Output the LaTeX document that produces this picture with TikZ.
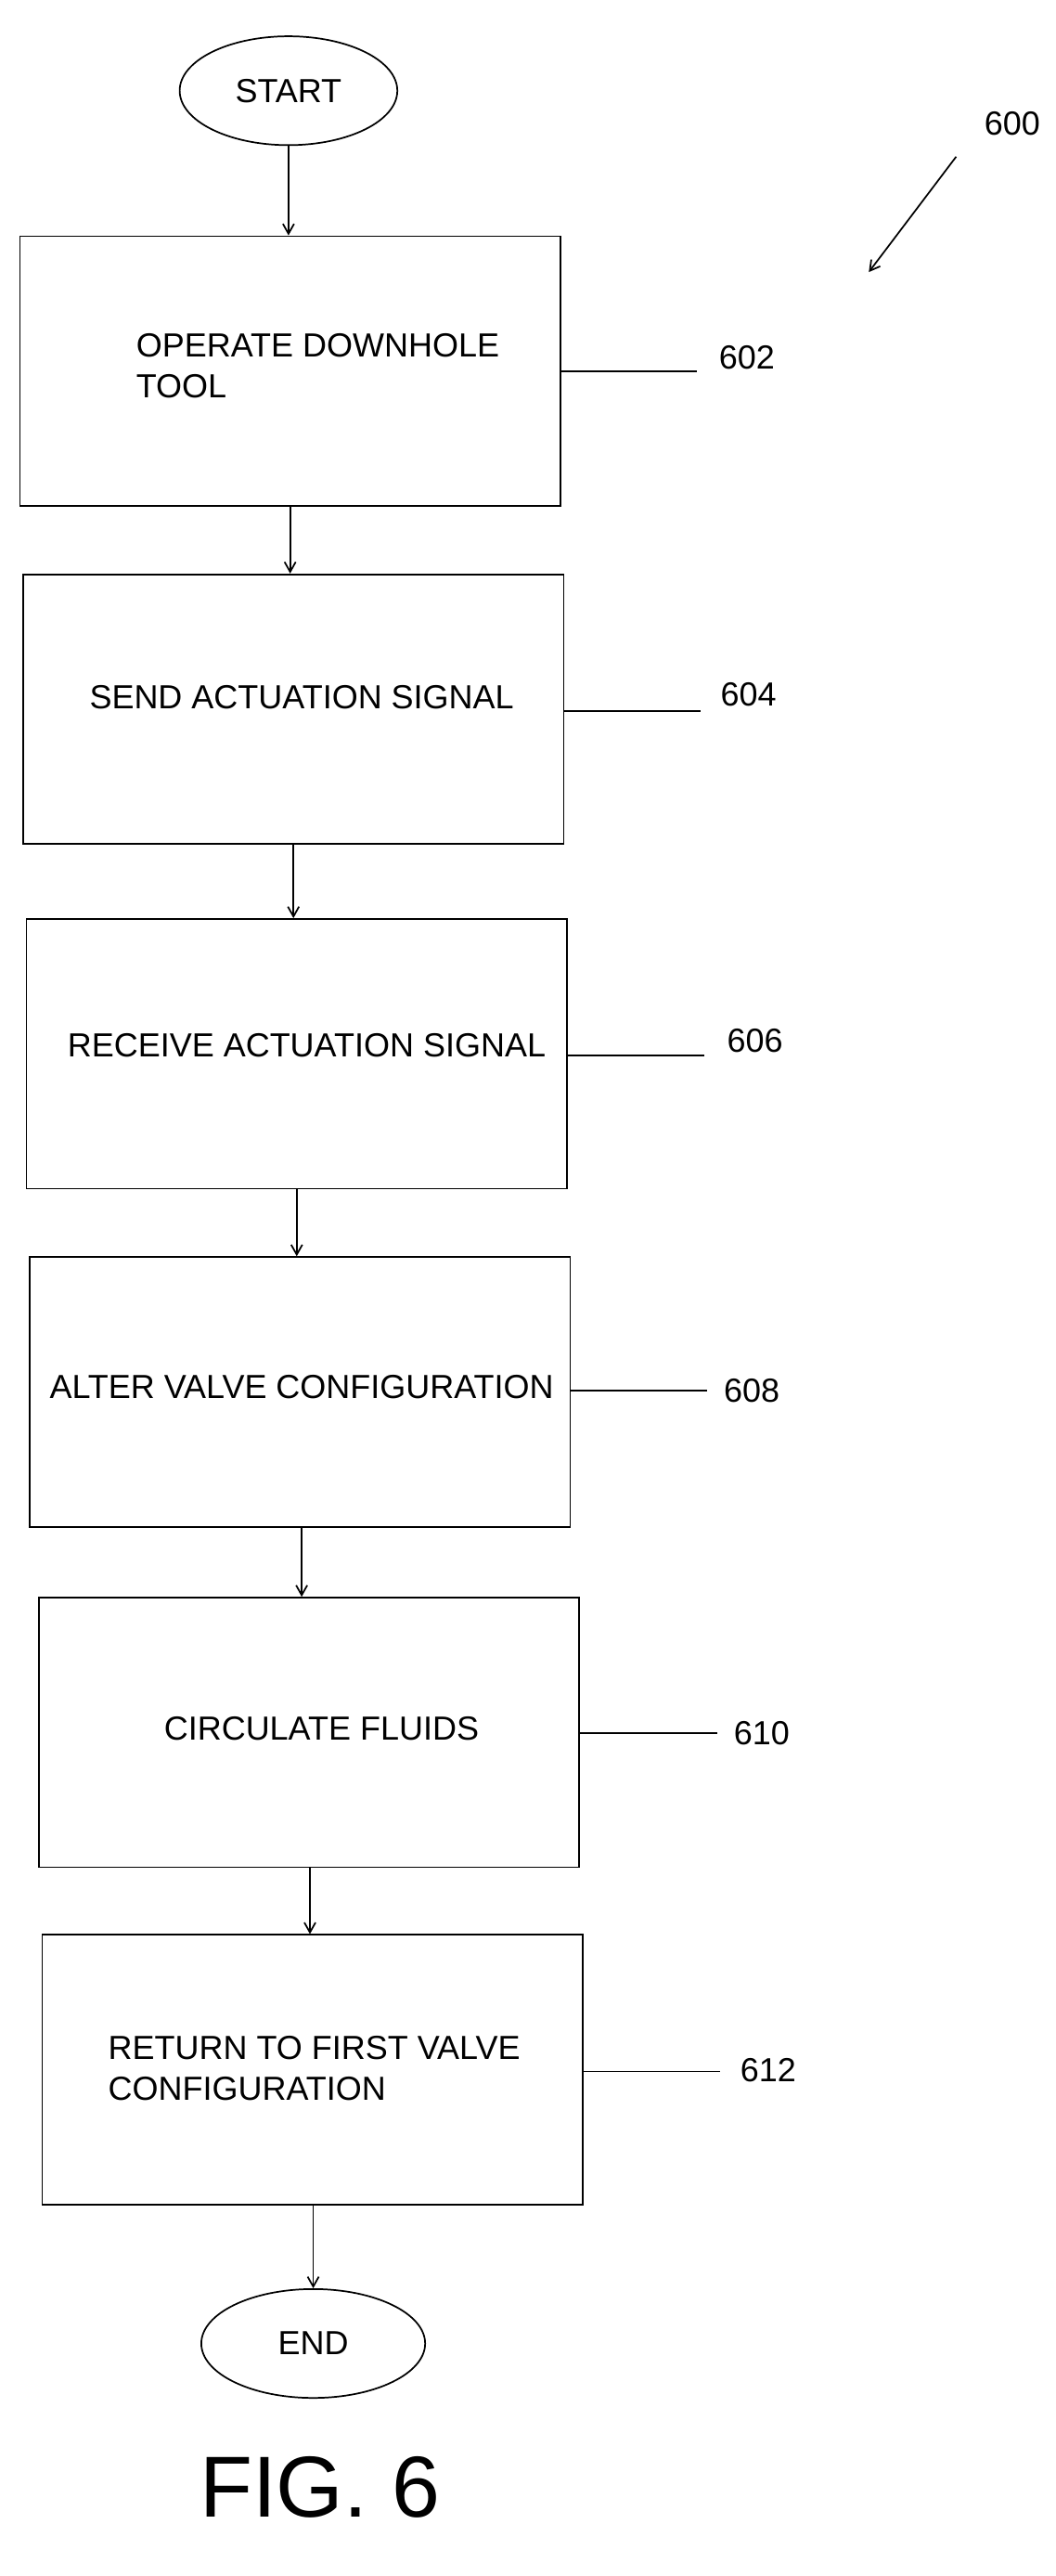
\documentclass[tikz,border=0pt]{standalone}
\usepackage{fontspec}
\setmainfont{Liberation Sans}
\usetikzlibrary{arrows.meta,shapes.geometric}
\begin{document}
\begin{tikzpicture}[x=1.333pt,y=-1.333pt,
  box/.style={draw,line width=1.3pt,minimum width=437pt,minimum height=218pt,inner sep=0pt},
  oval/.style={draw,ellipse,line width=1.3pt,minimum width=176pt,minimum height=88pt,inner sep=0pt},
  txt/.style={font=\fontsize{27}{33}\selectfont},
  lead/.style={line width=1.3pt},
  arr/.style={line width=1.3pt,-{Straight Barb[length=8pt,width=9pt]}}]
\useasboundingbox (0,0) rectangle (640,1562);
\node[oval,txt] (start) at (175,55) {START};
\node[box] (b602) at (176,225) {};
\node[box] (b604) at (178,430) {};
\node[box] (b606) at (180,639) {};
\node[box] (b608) at (182,844) {};
\node[box] (b610) at (187.5,1050.5) {};
\node[box] (b612) at (189.5,1255) {};
\node[oval,txt,minimum width=181pt] (end) at (190,1421) {END};
\node[txt,align=left,anchor=west] (t602) at (80,222) {OPERATE DOWNHOLE\\TOOL};
\node[txt] (t604) at (183,423) {SEND ACTUATION SIGNAL};
\node[txt] (t606) at (186,634) {RECEIVE ACTUATION SIGNAL};
\node[txt] (t608) at (183,841) {ALTER VALVE CONFIGURATION};
\node[txt] (t610) at (195,1048) {CIRCULATE FLUIDS};
\node[txt,align=left,anchor=west] (t612) at (63,1254) {RETURN TO FIRST VALVE\\CONFIGURATION};
\node[txt] (n602) at (453,217) {602};
\node[txt] (n604) at (454,421) {604};
\node[txt] (n606) at (458,631) {606};
\node[txt] (n608) at (456,843) {608};
\node[txt] (n610) at (462,1051) {610};
\node[txt] (n612) at (466,1255) {612};
\node[txt] (n600) at (614,75) {600};
\node[font=\fontsize{70}{80}\selectfont] (fig) at (194,1508) {FIG. 6};
\coordinate (l602) at (423,225);
\coordinate (l604) at (425,431);
\coordinate (l606) at (427,640);
\coordinate (l608) at (429,843);
\coordinate (l610) at (435,1051);
\coordinate (l612) at (437,1256);
\draw[lead] (b602.east |- l602) -- (l602);
\draw[lead] (b604.east |- l604) -- (l604);
\draw[lead] (b606.east |- l606) -- (l606);
\draw[lead] (b608.east |- l608) -- (l608);
\draw[lead] (b610.east |- l610) -- (l610);
\draw[lead] (b612.east |- l612) -- (l612);
\coordinate (a0) at (175,0);
\coordinate (a1) at (176,0);
\coordinate (a2) at (178,0);
\coordinate (a3) at (180,0);
\coordinate (a4) at (183,0);
\coordinate (a5) at (188,0);
\coordinate (a6) at (190,0);
\draw[arr] (start.south) -- (b602.north -| a0);
\draw[arr] (b602.south -| a1) -- (b604.north -| a1);
\draw[arr] (b604.south -| a2) -- (b606.north -| a2);
\draw[arr] (b606.south -| a3) -- (b608.north -| a3);
\draw[arr] (b608.south -| a4) -- (b610.north -| a4);
\draw[arr] (b610.south -| a5) -- (b612.north -| a5);
\draw[arr] (b612.south -| a6) -- (end.north);
\coordinate (p600a) at (580,95);
\coordinate (p600b) at (527,165);
\draw[arr] (p600a) -- (p600b);
\end{tikzpicture}
\end{document}
